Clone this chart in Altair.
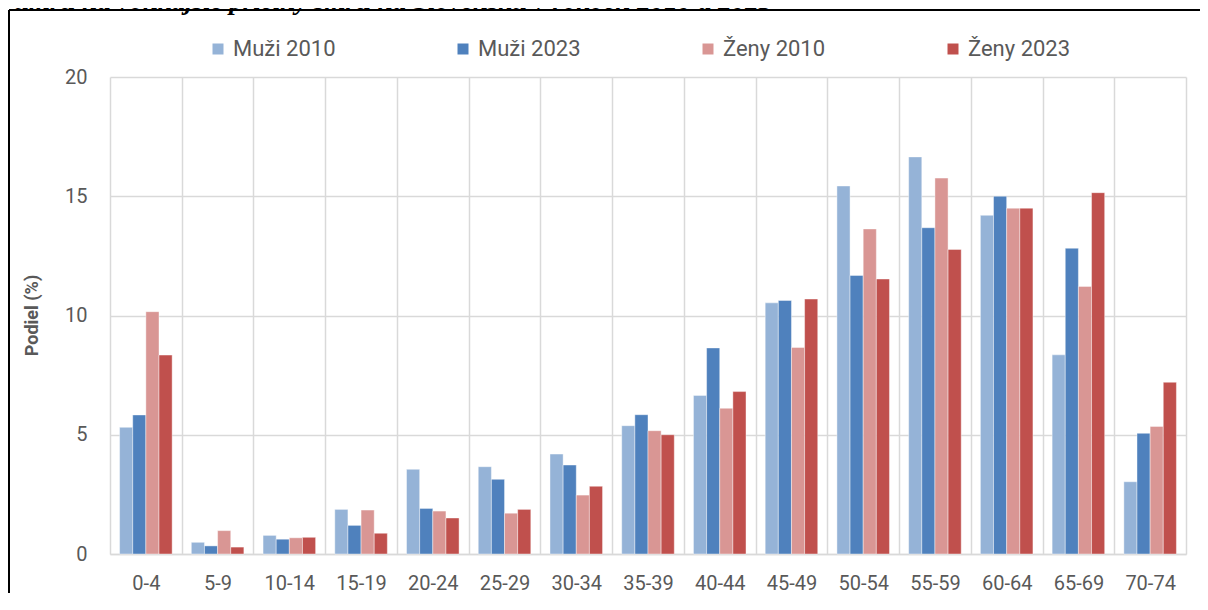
import altair as alt
import pandas as pd

categories = ["0-4", "5-9", "10-14", "15-19", "20-24", "25-29", "30-34", "35-39",
              "40-44", "45-49", "50-54", "55-59", "60-64", "65-69", "70-74"]
series_names = ["Muži 2010", "Muži 2023", "Ženy 2010", "Ženy 2023"]
muzi_2010 = [5.31, 0.49, 0.78, 1.87, 3.55, 3.66, 4.19, 5.38, 6.65, 10.53, 15.43, 16.65, 14.20, 8.35, 3.03]
muzi_2023 = [5.83, 0.34, 0.62, 1.20, 1.91, 3.13, 3.73, 5.84, 8.64, 10.63, 11.68, 13.68, 15.00, 12.82, 5.06]
zeny_2010 = [10.16, 0.98, 0.68, 1.84, 1.80, 1.71, 2.47, 5.17, 6.11, 8.66, 13.63, 15.76, 14.50, 11.22, 5.35]
zeny_2023 = [8.34, 0.29, 0.70, 0.87, 1.51, 1.87, 2.84, 5.00, 6.81, 10.69, 11.53, 12.77, 14.50, 15.15, 7.20]
colors = ["#95B3D7", "#4F81BD", "#D99694", "#C0504D"]
y_ticks = [0, 5, 10, 15, 20]
caption = "úmrtí na vonkajšie príčiny smrti na Slovensku v rokoch 2010 a 2023"

rows = []
for name, vals in zip(series_names, [muzi_2010, muzi_2023, zeny_2010, zeny_2023]):
    for c, v in zip(categories, vals):
        rows.append({"vek": c, "seria": name, "hodnota": v})
df = pd.DataFrame(rows)

W, H = 1076, 477
PL, PT = 102, 69
SVG_W, SVG_H = 1192, 585

bars = alt.Chart(df).mark_bar(stroke="white", strokeWidth=0.6, strokeOpacity=0.7).encode(
    x=alt.X("vek:N", sort=categories, title=None,
            scale=alt.Scale(paddingInner=0, paddingOuter=0),
            axis=alt.Axis(labelAngle=0, grid=True, tickBand="extent", ticks=False,
                          gridColor="#D9D9D9", gridWidth=1.5,
                          domainColor="#D9D9D9", domainWidth=1.5,
                          labelFont="Roboto", labelFontSize=20, labelColor="#595959",
                          labelPadding=19)),
    xOffset=alt.XOffset("seria:N", sort=series_names,
                        scale=alt.Scale(paddingInner=0, paddingOuter=0.73)),
    y=alt.Y("hodnota:Q", scale=alt.Scale(domain=[0, 20], nice=False),
            axis=alt.Axis(values=y_ticks, title="Podiel (%)", domain=False, ticks=False,
                          gridColor="#D9D9D9", gridWidth=1.5,
                          labelFont="Roboto", labelFontSize=20, labelColor="#595959",
                          labelPadding=23,
                          titleFont="Roboto", titleFontSize=18, titleFontWeight="bold",
                          titleColor="#595959", titleX=-78, titleY=238,
                          titleAngle=270, titleAlign="center", titleBaseline="middle")),
    color=alt.Color("seria:N", sort=series_names,
                    scale=alt.Scale(domain=series_names, range=colors),
                    legend=alt.Legend(title=None, orient="none", legendX=97, legendY=-39,
                                      direction="horizontal", columns=4, gridAlign="all",
                                      columnPadding=116, symbolType="square", symbolSize=121,
                                      symbolStrokeWidth=0, labelFont="Roboto",
                                      labelFontSize=22, labelColor="#595959", labelOffset=4)),
)

one = pd.DataFrame({"k": [0]})
top_line = alt.Chart(one).mark_rule(color="black", strokeWidth=2).encode(
    x=alt.value(-101), x2=alt.value(SVG_W - PL), y=alt.value(-67))
left_line = alt.Chart(one).mark_rule(color="black", strokeWidth=2).encode(
    x=alt.value(-101), y=alt.value(-67), y2=alt.value(SVG_H - PT))

cap = alt.Chart(pd.DataFrame({"t": [caption]})).mark_text(
    font="Liberation Serif", fontSize=27, fontStyle="italic", fontWeight="bold",
    align="left", baseline="alphabetic", color="black"
).encode(text="t:N", x=alt.value(-96), y=alt.value(-68))

chart = alt.layer(top_line, left_line, cap, bars).properties(
    width=W, height=H,
    autosize=alt.AutoSizeParams(type="none"),
    padding={"left": PL, "top": PT, "right": SVG_W - PL - W, "bottom": SVG_H - PT - H},
).configure_view(stroke=None)

chart.save("out.html", embed_options={"renderer": "svg", "actions": False})
